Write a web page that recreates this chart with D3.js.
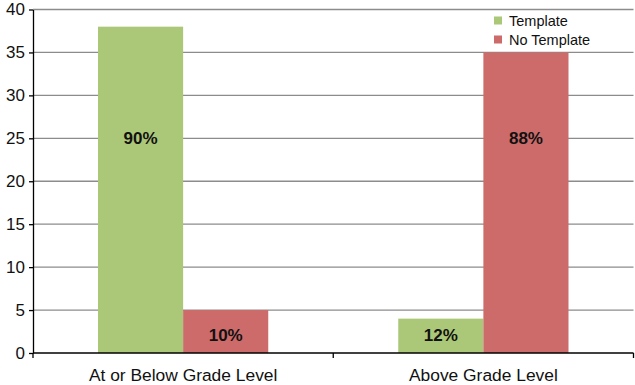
<!DOCTYPE html>
<html lang="en">
<head>
<meta charset="UTF-8">
<title>Template vs No Template</title>
<script src="https://d3js.org/d3.v7.min.js"></script>
<style>
    body { margin: 0; background: #fff; font-family: "Liberation Sans", Arial, sans-serif; }
    .grid line { stroke: #8c8c8c; stroke-width: 1.3; }
    .axis path, .axis line { stroke: #000; stroke-width: 1.3; }
    .axis text { font-size: 17px; fill: #111; }
    .bar-label { font-size: 17px; font-weight: bold; fill: #111; }
    .legend text { font-size: 14.5px; fill: #111; }
</style>
</head>
<body>
<svg id="chart" width="635" height="385"></svg>
<script>
const categories = ["At or Below Grade Level", "Above Grade Level"];
const seriesNames = ["Template", "No Template"];
const templateValues = [38, 4];
const noTemplateValues = [5, 35];
const templateLabels = ["90%", "12%"];
const noTemplateLabels = ["10%", "88%"];
const yTicks = [0, 5, 10, 15, 20, 25, 30, 35, 40];
const colors = ["#abc778", "#cc6b6a"];

const width = 635, height = 385;
const margin = { top: 9.5, right: 1.5, bottom: 32, left: 33 };
const innerW = width - margin.left - margin.right;
const innerH = height - margin.top - margin.bottom;

const svg = d3.select("#chart");
const g = svg.append("g").attr("transform", `translate(${margin.left},${margin.top})`);

const x0 = d3.scaleBand().domain(categories).range([0, innerW]).paddingInner(0).paddingOuter(0);
const x1 = d3.scaleBand().domain(seriesNames).range([65, x0.bandwidth() - 65]);
const y = d3.scaleLinear().domain([0, 40]).range([innerH, 0]);

// gridlines
g.append("g").attr("class", "grid")
    .selectAll("line").data(yTicks.slice(1)).enter().append("line")
    .attr("x1", 0).attr("x2", innerW)
    .attr("y1", d => y(d)).attr("y2", d => y(d));

const rows = categories.map((c, i) => ({
    category: c,
    values: [
        { series: seriesNames[0], value: templateValues[i], label: templateLabels[i] },
        { series: seriesNames[1], value: noTemplateValues[i], label: noTemplateLabels[i] }
    ]
}));

const groups = g.selectAll(".group").data(rows).enter().append("g")
    .attr("transform", d => `translate(${x0(d.category)},0)`);

groups.selectAll("rect").data(d => d.values).enter().append("rect")
    .attr("x", d => x1(d.series))
    .attr("width", x1.bandwidth())
    .attr("y", d => y(d.value))
    .attr("height", d => innerH - y(d.value))
    .attr("fill", (d, i) => colors[i]);

groups.selectAll("text").data(d => d.values).enter().append("text")
    .attr("class", "bar-label")
    .attr("x", d => x1(d.series) + x1.bandwidth() / 2)
    .attr("y", d => y(d.value > 10 ? 25 : 2.1))
    .attr("text-anchor", "middle")
    .attr("dy", "0.36em")
    .text(d => d.label);

// axes
g.append("g").attr("class", "axis")
    .call(d3.axisLeft(y).tickValues(yTicks).tickSize(4).tickSizeOuter(0).tickPadding(4));

const xAxis = g.append("g").attr("class", "axis")
    .attr("transform", `translate(0,${innerH})`)
    .call(d3.axisBottom(x0).tickSize(0).tickPadding(16));
xAxis.select(".domain").attr("d", `M0,0H${innerW}`);
xAxis.selectAll("text").style("font-size", "17.4px");
// category boundary ticks
xAxis.selectAll(".sep").data([0, ...categories.map(c => x0(c) + x0.bandwidth())]).enter()
    .append("line").attr("class", "sep")
    .attr("x1", d => d).attr("x2", d => d)
    .attr("y1", 0).attr("y2", 5)
    .attr("stroke", "#000");

// legend
const legend = svg.append("g").attr("class", "legend")
    .attr("transform", "translate(494,16)");
const li = legend.selectAll("g").data(seriesNames).enter().append("g")
    .attr("transform", (d, i) => `translate(0,${i * 19})`);
li.append("rect").attr("width", 8).attr("height", 8).attr("y", 0.5)
    .attr("fill", (d, i) => colors[i]);
li.append("text").attr("x", 15).attr("y", 4.5).attr("dy", "0.35em").text(d => d);
</script>
</body>
</html>
